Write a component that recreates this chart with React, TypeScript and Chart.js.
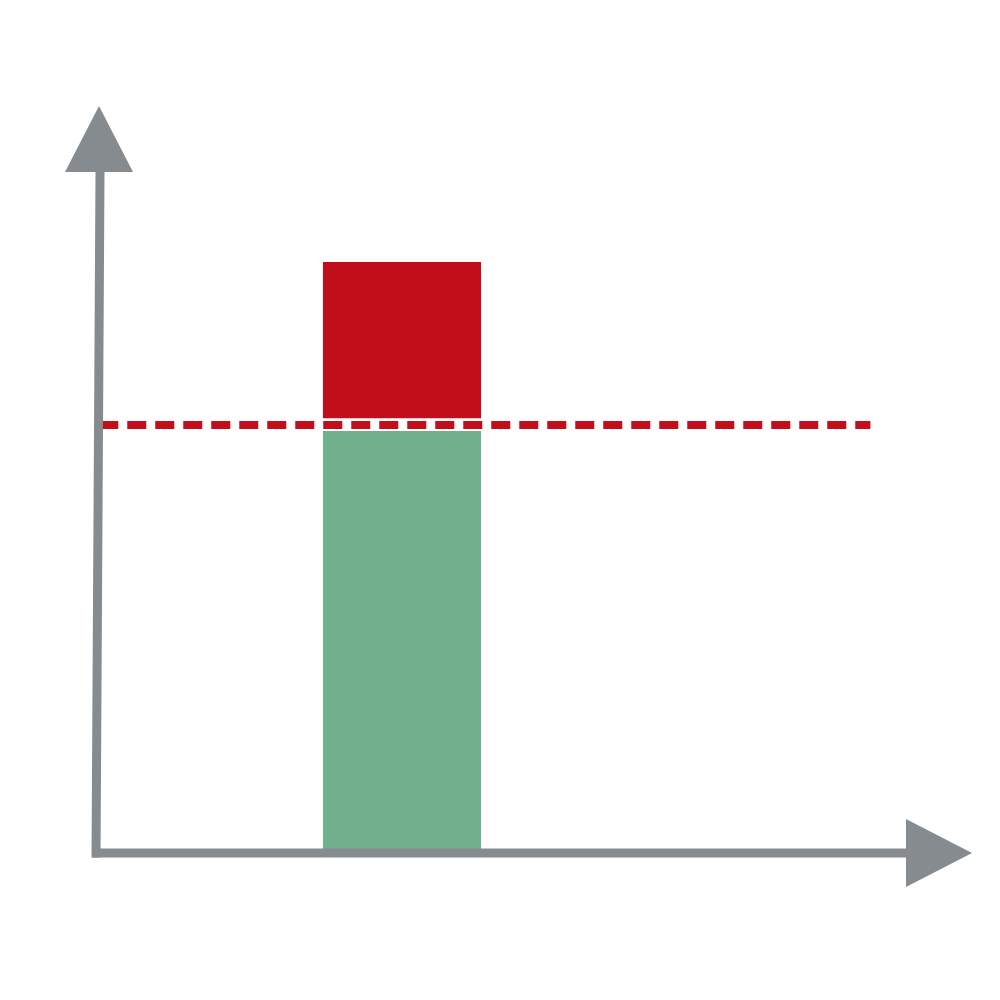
import React, { useEffect, useRef } from "react";
import { Chart, registerables } from "chart.js";

Chart.register(...registerables);

// ---- data ----
const categories = ["", "A", "", ""];
const baseValues: (number[] | null)[] = [null, [0, 56.5], null, null];
const excessValues: (number[] | null)[] = [null, [58.2, 79.1], null, null];
const thresholdValue = 57.3;
const thresholdSpan = [0.004, 0.949];
const yMin = 0;
const yMax = 100;

const GRAY = "#868b90";
const RED = "#c20e1a";
const GREEN = "#70b08a";

const axisArrows = {
  id: "axisArrows",
  afterDatasetsDraw(chart: any) {
    const { ctx, chartArea } = chart;
    const { left, right, top, bottom } = chartArea;
    const lw = 9;
    const head = 66;
    const half = 34;
    ctx.save();
    ctx.strokeStyle = GRAY;
    ctx.fillStyle = GRAY;
    ctx.lineWidth = lw;
    ctx.lineCap = "butt";
    // y axis stem (slightly tilted)
    ctx.beginPath();
    ctx.moveTo(left, bottom + lw / 2);
    ctx.lineTo(left + 4, top + head);
    ctx.stroke();
    // y arrow head
    ctx.beginPath();
    ctx.moveTo(left + 3, top);
    ctx.lineTo(left + 3 - half, top + head);
    ctx.lineTo(left + 3 + half, top + head);
    ctx.closePath();
    ctx.fill();
    // x axis stem
    ctx.beginPath();
    ctx.moveTo(left - 4, bottom);
    ctx.lineTo(right - 4, bottom);
    ctx.stroke();
    // x arrow head
    ctx.beginPath();
    ctx.moveTo(right - 6, bottom - half);
    ctx.lineTo(right - 6 + head, bottom);
    ctx.lineTo(right - 6, bottom + half);
    ctx.closePath();
    ctx.fill();
    ctx.restore();
  },
};

export default function App() {
  const ref = useRef<HTMLCanvasElement>(null);
  useEffect(() => {
    const canvas = ref.current!;
    const chart = new Chart(canvas, {
      type: "bar",
      data: {
        labels: categories,
        datasets: [
          {
            type: "bar",
            data: baseValues as any,
            backgroundColor: GREEN,
            borderWidth: 0,
            grouped: false,
            barPercentage: 0.775,
            categoryPercentage: 1,
            order: 2,
          } as any,
          {
            type: "bar",
            data: excessValues as any,
            backgroundColor: RED,
            borderWidth: 0,
            grouped: false,
            barPercentage: 0.775,
            categoryPercentage: 1,
            order: 2,
          } as any,
          {
            type: "line",
            xAxisID: "x2",
            data: thresholdSpan.map((x) => ({ x, y: thresholdValue })),
            borderColor: RED,
            borderWidth: 8,
            borderDash: [19, 9],
            borderCapStyle: "butt",
            pointRadius: 0,
            fill: false,
            order: 1,
          } as any,
        ],
      },
      options: {
        animation: false,
        responsive: false,
        devicePixelRatio: 1,
        layout: { padding: { left: 96, right: 88, top: 106, bottom: 147 } },
        plugins: { legend: { display: false }, tooltip: { enabled: false } },
        scales: {
          x: { display: false, grid: { display: false } },
          x2: { type: "linear", display: false, min: 0, max: 1, offset: false, grid: { display: false } },
          y: { display: false, min: yMin, max: yMax, grid: { display: false } },
        },
      },
      plugins: [axisArrows],
    });
    return () => chart.destroy();
  }, []);
  return (
    <div style={{ position: "absolute", left: 0, top: 0, width: 1000, height: 1000, background: "#fff" }}>
      <canvas ref={ref} width={1000} height={1000} />
    </div>
  );
}
